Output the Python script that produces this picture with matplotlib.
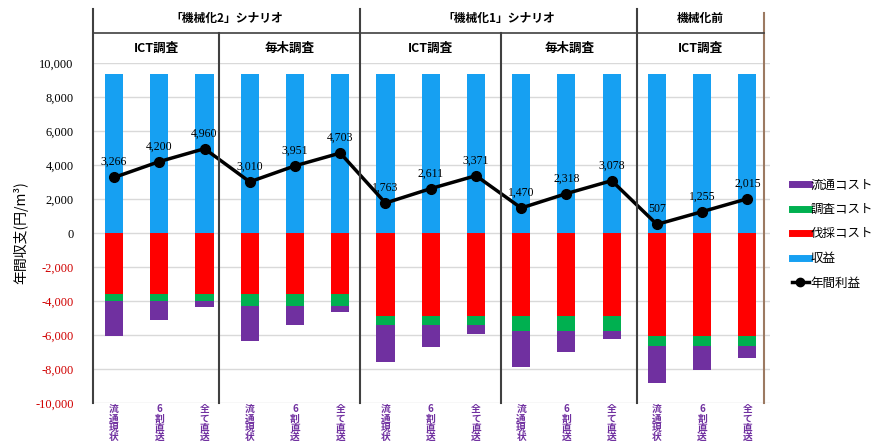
import matplotlib
matplotlib.use("Agg")
import matplotlib.pyplot as plt
import numpy as np
from matplotlib.lines import Line2D
from matplotlib.transforms import blended_transform_factory

plt.rcParams['font.family'] = ['Noto Sans CJK JP', 'DejaVu Sans']

# データ
categories = ["流通現状", "6割直送", "全て直送"] * 5
revenue = [9340] * 15
harvest_cost = [3580, 3580, 3580, 3580, 3580, 3580,
                4860, 4860, 4860, 4860, 4860, 4860,
                6040, 6040, 6040]
survey_cost = [430, 430, 430, 690, 690, 690,
               530, 530, 530, 890, 890, 890,
               590, 590, 590]
dist_cost = [2064, 1130, 370, 2060, 1119, 367,
             2187, 1339, 579, 2120, 1272, 512,
             2203, 1455, 695]
profit = [3266, 4200, 4960, 3010, 3951, 4703,
          1763, 2611, 3371, 1470, 2318, 3078,
          507, 1255, 2015]

scenarios = ["「機械化2」シナリオ", "「機械化1」シナリオ", "機械化前"]
surveys = ["ICT調査", "毎木調査", "ICT調査", "毎木調査", "ICT調査"]

c_dist = "#7030A0"
c_survey = "#00B050"
c_harvest = "#FF0000"
c_rev = "#16A0F2"

fig = plt.figure(figsize=(8.94, 4.46), dpi=100)
ax = fig.add_axes([93/894, 1-403/446, 677/894, 340/446])

x = np.arange(len(categories))
w = 0.4
hc = -np.array(harvest_cost)
sc = -np.array(survey_cost)
dc = -np.array(dist_cost)
ax.bar(x, revenue, w, color=c_rev, zorder=2)
ax.bar(x, hc, w, color=c_harvest, zorder=2)
ax.bar(x, sc, w, bottom=hc, color=c_survey, zorder=2)
ax.bar(x, dc, w, bottom=hc+sc, color=c_dist, zorder=2)
ax.plot(x, profit, color="black", lw=2.5, marker="o", ms=7, zorder=4)
for xi, p in zip(x, profit):
    ax.annotate(f"{p:,}", (xi, p), xytext=(0, 11), textcoords="offset points",
                ha="center", va="center", fontsize=8.5, family="Liberation Serif", zorder=5)

ax.set_xlim(-0.465, 14.5)
ax.set_ylim(-10000, 10000)
yt = np.arange(-10000, 10001, 2000)
ax.set_yticks(yt)
ax.set_yticklabels([f"{v:,}" for v in yt], family="Liberation Serif", fontsize=9)
for lab, v in zip(ax.get_yticklabels(), yt):
    if v < 0:
        lab.set_color("#D00000")
ax.tick_params(axis="y", length=0, pad=14)
ax.grid(axis="y", color="#D9D9D9", lw=1, zorder=0)
for s in ax.spines.values():
    s.set_visible(False)

ax.set_xticks(x)
ax.set_xticklabels(["\n".join(c) for c in categories], fontsize=7, weight="bold",
                   color=c_dist, linespacing=0.9, va="top")
ax.tick_params(axis="x", length=0, pad=1)

ax.set_ylabel("年間収支(円/m³)", fontsize=10, labelpad=5)

# 区切り線・ヘッダー
tr = blended_transform_factory(ax.transData, fig.transFigure)
y_bot = 1 - 403/446
y_top = 1 - 9/446
y_mid = 1 - 33/446
for xs in [-0.465, 5.44, 11.57]:
    ax.plot([xs, xs], [y_bot, y_top], color="#404040", lw=1.5, transform=tr, clip_on=False, zorder=6)
for xs in [2.32, 8.56]:
    ax.plot([xs, xs], [y_bot, y_mid], color="#404040", lw=1.5, transform=tr, clip_on=False, zorder=6)
ax.plot([14.36, 14.36], [y_bot, 1 - 13/446], color="#9C7A62", lw=1.5, transform=tr, clip_on=False, zorder=6)
ax.plot([-0.465, 14.36], [y_mid, y_mid], color="#404040", lw=1.2, transform=tr, clip_on=False, zorder=6)

scen_bounds = [(-0.465, 5.44), (5.44, 11.57), (11.57, 14.36)]
for (a, b), t in zip(scen_bounds, scenarios):
    ax.text((a+b)/2, 1-18/446, t, transform=tr, ha="center", va="center", fontsize=8.5, weight="bold")
surv_bounds = [(-0.465, 2.32), (2.32, 5.44), (5.44, 8.56), (8.56, 11.57), (11.57, 14.36)]
for (a, b), t in zip(surv_bounds, surveys):
    ax.text((a+b)/2, 1-48/446, t, transform=tr, ha="center", va="center", fontsize=9, weight="bold")

handles = [Line2D([], [], color=c_dist, lw=5),
           Line2D([], [], color=c_survey, lw=5),
           Line2D([], [], color=c_harvest, lw=5),
           Line2D([], [], color=c_rev, lw=5),
           Line2D([], [], color="black", lw=2.5, marker="o", ms=6)]
labels = ["流通コスト", "調査コスト", "伐採コスト", "収益", "年間利益"]
fig.legend(handles, labels, loc="center left", bbox_to_anchor=(786/894, 1-234/446),
           frameon=False, fontsize=9, handlelength=1.3, handletextpad=0.15,
           labelspacing=0.92, borderpad=0)

fig.savefig("out.png", dpi=100)
